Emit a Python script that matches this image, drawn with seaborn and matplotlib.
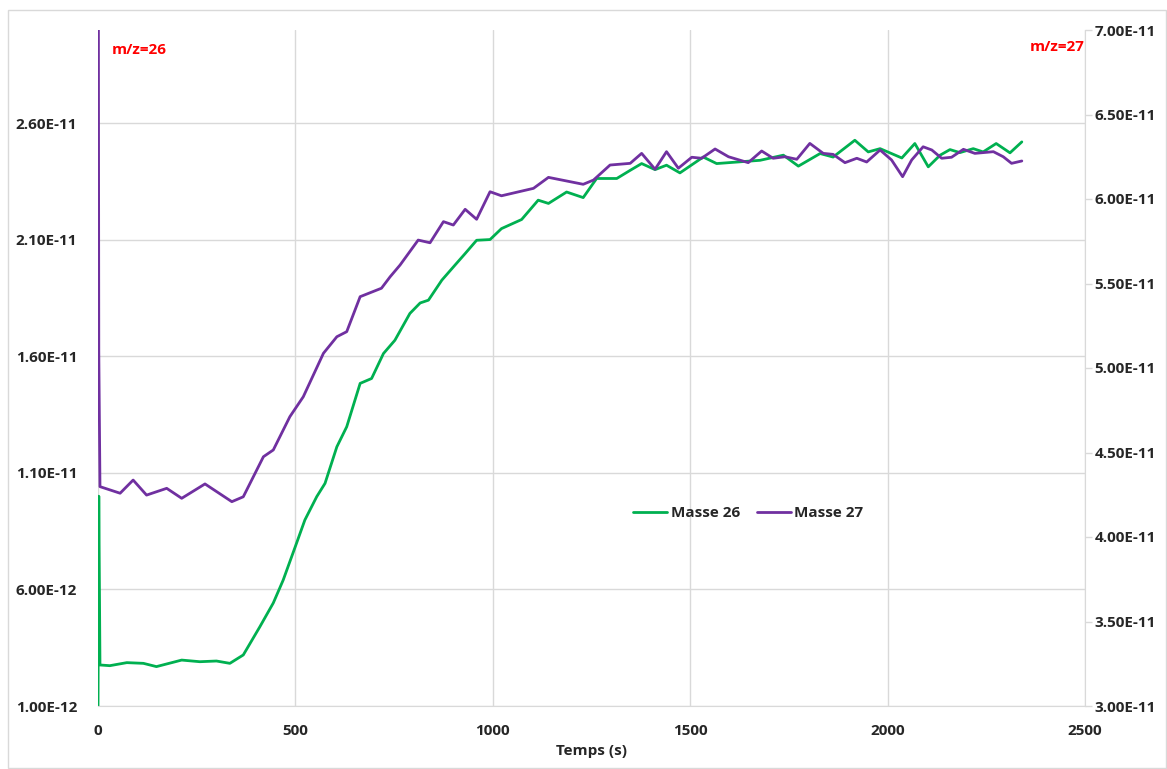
import pandas as pd
import seaborn as sns
import matplotlib.pyplot as plt
from matplotlib.patches import Rectangle

# Data (values in units of 1E-11)
t26 = [0, 2, 5, 30, 73, 115, 148, 212, 258, 300, 334, 368, 410, 444, 469, 503, 524, 554,
       575, 605, 630, 664, 693, 723, 752, 790, 816, 837, 871, 904, 930, 959, 993, 1022,
       1073, 1115, 1141, 1187, 1229, 1263, 1314, 1348, 1377, 1411, 1440, 1474, 1533, 1567,
       1677, 1736, 1774, 1829, 1862, 1917, 1951, 1981, 2036, 2069, 2103, 2133, 2158, 2183,
       2217, 2242, 2275, 2310, 2340]
m26 = [0.10, 1.00, 0.276, 0.273, 0.286, 0.283, 0.269, 0.297, 0.290, 0.293, 0.283, 0.319,
       0.440, 0.542, 0.640, 0.799, 0.898, 0.998, 1.055, 1.212, 1.298, 1.484, 1.505, 1.612,
       1.669, 1.784, 1.829, 1.841, 1.927, 1.991, 2.041, 2.098, 2.101, 2.148, 2.187, 2.270,
       2.256, 2.305, 2.281, 2.363, 2.363, 2.398, 2.427, 2.401, 2.420, 2.387, 2.455, 2.427,
       2.441, 2.463, 2.416, 2.470, 2.455, 2.527, 2.477, 2.491, 2.451, 2.513, 2.413, 2.463,
       2.487, 2.474, 2.491, 2.477, 2.513, 2.473, 2.520]

t27 = [0, 2, 5, 56, 89, 123, 174, 212, 271, 339, 368, 419, 444, 486, 520, 571, 605, 630,
       664, 718, 740, 765, 811, 841, 875, 900, 930, 959, 993, 1022, 1103, 1141, 1229, 1255,
       1297, 1348, 1377, 1411, 1440, 1470, 1504, 1529, 1563, 1597, 1647, 1681, 1710, 1740,
       1770, 1803, 1837, 1862, 1892, 1922, 1947, 1981, 2010, 2038, 2061, 2090, 2112, 2137,
       2162, 2192, 2221, 2268, 2293, 2314, 2340]
m27 = [9.0, 5.1, 4.298, 4.259, 4.337, 4.248, 4.288, 4.229, 4.314, 4.209, 4.238, 4.475,
       4.515, 4.712, 4.830, 5.087, 5.185, 5.215, 5.422, 5.472, 5.540, 5.609, 5.757, 5.741,
       5.866, 5.846, 5.939, 5.880, 6.043, 6.019, 6.063, 6.128, 6.087, 6.112, 6.201, 6.211,
       6.270, 6.176, 6.280, 6.182, 6.247, 6.241, 6.296, 6.250, 6.215, 6.284, 6.241, 6.250,
       6.235, 6.329, 6.270, 6.264, 6.215, 6.241, 6.219, 6.290, 6.231, 6.132, 6.231, 6.309,
       6.290, 6.241, 6.247, 6.294, 6.270, 6.280, 6.250, 6.211, 6.225]

left_ticks = [1e-12, 6e-12, 1.1e-11, 1.6e-11, 2.1e-11, 2.6e-11]
right_ticks = [3.0e-11, 3.5e-11, 4.0e-11, 4.5e-11, 5.0e-11, 5.5e-11, 6.0e-11, 6.5e-11, 7.0e-11]
x_ticks = [0, 500, 1000, 1500, 2000, 2500]

df26 = pd.DataFrame({'t': t26, 'v': [v * 1e-11 for v in m26]})
df27 = pd.DataFrame({'t': t27, 'v': [v * 1e-11 for v in m27]})

sns.set_style("white")
plt.rcParams['font.family'] = ['Open Sans', 'DejaVu Sans']
plt.rcParams['font.weight'] = 'bold'

green = '#00b050'
purple = '#7030a0'
gridc = '#d9d9d9'
fs = 11

fig = plt.figure(figsize=(11.67, 7.69), dpi=100)
ax = fig.add_axes([98 / 1167, 1 - 706 / 769, 987 / 1167, 676 / 769])
ax2 = ax.twinx()

sns.lineplot(data=df26, x='t', y='v', ax=ax, color=green, lw=2.0, sort=False,
             estimator=None, label='Masse 26', legend=False, solid_joinstyle='round')
sns.lineplot(data=df27, x='t', y='v', ax=ax2, color=purple, lw=2.0, sort=False,
             estimator=None, label='Masse 27', legend=False, solid_joinstyle='round')

ax.set_xlim(0, 2500)
ax.set_ylim(1e-12, 3e-11)
ax2.set_ylim(3e-11, 7e-11)

ax.set_xticks(x_ticks)
ax.set_xticklabels([str(x) for x in x_ticks], fontsize=fs, fontweight='bold')
ax.set_yticks(left_ticks)
ax.set_yticklabels(['{:.2E}'.format(v) for v in left_ticks], fontsize=fs, fontweight='bold')
ax2.set_yticks(right_ticks)
ax2.set_yticklabels(['{:.2E}'.format(v) for v in right_ticks], fontsize=fs, fontweight='bold')

ax.tick_params(axis='x', length=0, pad=13)
ax.tick_params(axis='y', length=0, pad=15)
ax2.tick_params(axis='y', length=5, width=1, color=gridc, pad=2)

ax.grid(True, color=gridc, lw=1)
ax.set_axisbelow(True)
for s in ['top', 'left', 'right']:
    ax.spines[s].set_visible(False)
    ax2.spines[s].set_visible(False)
ax.spines['bottom'].set_color(gridc)
ax2.spines['bottom'].set_visible(False)
ax2.spines['right'].set_visible(True)
ax2.spines['right'].set_color(gridc)

ax.set_xlabel('Temps (s)', fontsize=fs, fontweight='bold', labelpad=4)
ax.set_ylabel('')
ax2.set_ylabel('')

ax.text(35, 0.970, 'm/z=26', transform=ax.get_xaxis_transform(), color='red',
        fontsize=fs, fontweight='bold', va='center', ha='left')
ax.text(0.9995, 0.975, 'm/z=27', transform=ax.transAxes, color='red',
        fontsize=fs, fontweight='bold', va='center', ha='right')

h1, l1 = ax.get_legend_handles_labels()
h2, l2 = ax2.get_legend_handles_labels()
ax2.legend(h1 + h2, l1 + l2, loc='center', bbox_to_anchor=(0.659, 0.2855), ncol=2,
           frameon=False, handlelength=2.2, columnspacing=1.1,
           handletextpad=0.25, prop={'weight': 'bold', 'size': fs})

fig.patches.append(Rectangle((8 / 1167, 0.001), 1158 / 1167, 1 - 10 / 769 - 0.001,
                             transform=fig.transFigure, fill=False, edgecolor=gridc, lw=1))

fig.savefig('out.png', dpi=100)
